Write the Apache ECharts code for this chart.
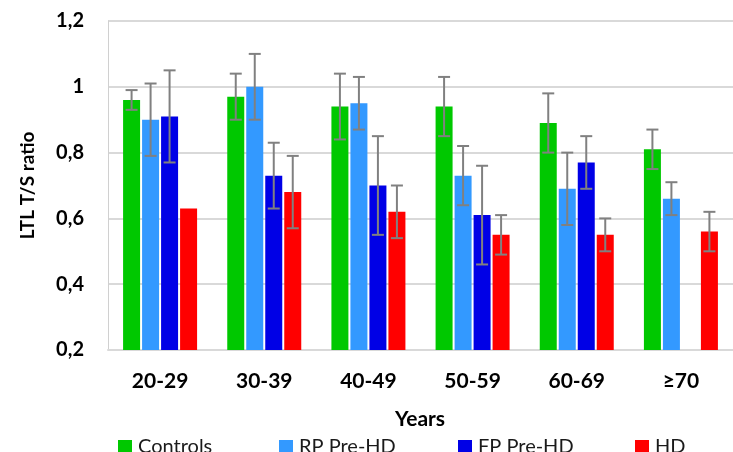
<!DOCTYPE html>
<html>
<head>
<meta charset="utf-8">
<script src="https://cdn.jsdelivr.net/npm/echarts@6/dist/echarts.min.js"></script>
<style>
  html, body { margin: 0; padding: 0; background: #fff; }
  #chart { width: 733px; height: 452px; }
</style>
</head>
<body>
<div id="chart"></div>
<script>
// 年龄组
const categories = ['20-29', '30-39', '40-49', '50-59', '60-69', '≥70'];
const seriesNames = ['Controls', 'RP Pre-HD', 'FP Pre-HD', 'HD'];

// 均值
const controls = [0.96, 0.97, 0.94, 0.94, 0.89, 0.81];
const rpPreHD = [0.90, 1.00, 0.95, 0.73, 0.69, 0.66];
const fpPreHD = [0.91, 0.73, 0.70, 0.61, 0.77, null];
const hd = [0.63, 0.68, 0.62, 0.55, 0.55, 0.56];

// 误差 (±)
const controlsErr = [0.03, 0.07, 0.10, 0.09, 0.09, 0.06];
const rpPreHDErr = [0.11, 0.10, 0.08, 0.09, 0.11, 0.05];
const fpPreHDErr = [0.14, 0.10, 0.15, 0.15, 0.08, null];
const hdErr = [0, 0.11, 0.08, 0.06, 0.05, 0.06];

const yTicks = [0.2, 0.4, 0.6, 0.8, 1, 1.2];

const values = [controls, rpPreHD, fpPreHD, hd];
const errors = [controlsErr, rpPreHDErr, fpPreHDErr, hdErr];
const colors = ['#00c800', '#3399ff', '#0000e6', '#ff0000'];

const font = 'Lato, "Open Sans", sans-serif';
const barWidth = 17;
const barGapPx = 2;

const chart = echarts.init(document.getElementById('chart'));

// 柱子相对类目中心的偏移
function barOffset(i) {
    const total = 4 * barWidth + 3 * barGapPx;
    return -total / 2 + barWidth / 2 + i * (barWidth + barGapPx);
}

const barSeries = values.map((data, i) => ({
    name: seriesNames[i],
    type: 'bar',
    data: data,
    barWidth: barWidth,
    barGap: (barGapPx / barWidth * 100) + '%',
    itemStyle: { color: colors[i] },
    z: 2
}));

const errSeries = errors.map((err, i) => {
    const data = [];
    err.forEach((e, k) => {
        if (e == null || !e || values[i][k] == null) return;
        data.push([k, values[i][k] - e, values[i][k] + e]);
    });
    return {
        type: 'custom',
        silent: true,
        z: 5,
        data: data,
        encode: { x: 0, y: [1, 2] },
        renderItem: (params, api) => {
            const lo = api.coord([api.value(0), api.value(1)]);
            const hi = api.coord([api.value(0), api.value(2)]);
            const x = lo[0] + barOffset(i);
            const cap = 6;
            const style = { stroke: '#808080', lineWidth: 2 };
            return {
                type: 'group',
                children: [
                    { type: 'line', shape: { x1: x, y1: lo[1], x2: x, y2: hi[1] }, style: style },
                    { type: 'line', shape: { x1: x - cap, y1: hi[1], x2: x + cap, y2: hi[1] }, style: style },
                    { type: 'line', shape: { x1: x - cap, y1: lo[1], x2: x + cap, y2: lo[1] }, style: style }
                ]
            };
        }
    };
});

const legendLeft = [118, 279, 458, 635];

chart.setOption({
    animation: false,
    title: {
        text: 'Years',
        left: 415,
        top: 404,
        textAlign: 'center',
        textStyle: { fontFamily: font, fontSize: 21, fontWeight: 'bold', color: '#000' }
    },
    legend: seriesNames.map((n, i) => ({
        data: [n],
        left: legendLeft[i],
        top: 437,
        padding: 0,
        itemWidth: 14,
        itemHeight: 14,
        icon: 'rect',
        textStyle: { fontFamily: font, fontSize: 20, color: '#1a1a1a', padding: [2, 0, 0, 1] }
    })),
    grid: { left: 108, right: -9, top: 21, bottom: 102 },
    xAxis: {
        type: 'category',
        data: categories,
        axisLine: { lineStyle: { color: '#d9d9d9', width: 2 } },
        axisTick: { show: false },
        axisLabel: {
            margin: 21,
            fontFamily: font, fontSize: 21, fontWeight: 'bold', color: '#000'
        }
    },
    yAxis: {
        type: 'value',
        min: 0.2,
        max: 1.2,
        interval: 0.2,
        name: 'LTL T/S ratio',
        nameLocation: 'middle',
        nameGap: 71,
        nameTextStyle: { fontFamily: font, fontSize: 19, fontWeight: 'bold', color: '#000' },
        axisLine: { show: true, lineStyle: { color: '#d0d0d0', width: 1 } },
        axisTick: { show: false },
        splitLine: { lineStyle: { color: '#d9d9d9', width: 2 } },
        axisLabel: {
            margin: 24,
            fontFamily: font, fontSize: 20, fontWeight: 'bold', color: '#000',
            formatter: v => {
                const t = yTicks.find(y => Math.abs(y - v) < 1e-6);
                return String(t != null ? t : +v.toFixed(1)).replace('.', ',');
            }
        }
    },
    series: barSeries.concat(errSeries)
});

window.addEventListener('resize', () => {
    chart.resize();
});
</script>
</body>
</html>
